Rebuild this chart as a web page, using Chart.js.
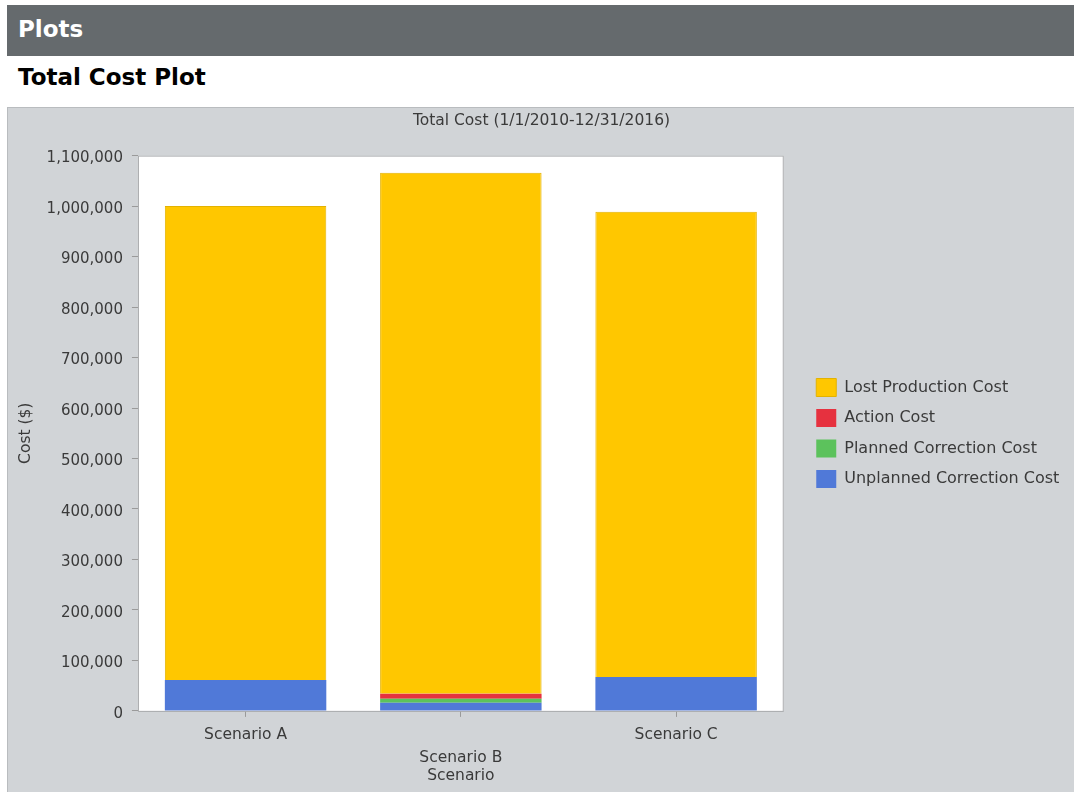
<!DOCTYPE html>
<html>
<head>
<meta charset="utf-8">
<script src="https://cdn.jsdelivr.net/npm/chart.js@4.4.1/dist/chart.umd.min.js"></script>
<style>
  body { margin: 0; background: #fff; width: 1074px; height: 792px; overflow: hidden; position: relative; font-family: "DejaVu Sans", sans-serif; }
  #header { position: absolute; left: 7px; top: 5px; width: 1067px; height: 51px; background: #656a6d; color: #fff; font-weight: bold; font-size: 23px; line-height: 48px; box-sizing: border-box; padding-left: 11px; }
  #subtitle { position: absolute; left: 18px; top: 64px; font-weight: bold; font-size: 23px; color: #000; }
  #panel { position: absolute; left: 7px; top: 107px; width: 1067px; height: 685px; background: #d1d4d7; border-top: 1px solid #b9bcbf; border-left: 1px solid #b9bcbf; box-sizing: border-box; }
  #wrap { position: absolute; left: 0; top: 0; width: 1066px; height: 684px; }
</style>
</head>
<body>
<div id="header">Plots</div>
<div id="subtitle">Total Cost Plot</div>
<div id="panel"><div id="wrap"><canvas id="chart_id"></canvas></div></div>
<script>
// data
const scenarios = ["Scenario A", "Scenario B", "Scenario C"];
const unplannedCost = [61000, 16000, 67000];
const plannedCost = [0, 8000, 0];
const actionCost = [0, 10000, 0];
const lostProductionCost = [939000, 1032000, 922000];

const textColor = '#3a3a3a';
const fontFamily = '"DejaVu Sans", sans-serif';
const legendGap = 20;

// white plot area with a thin grey frame
const plotFrame = {
    id: 'plotFrame',
    beforeDraw(chart) {
        const a = chart.chartArea;
        const ctx = chart.ctx;
        ctx.save();
        ctx.fillStyle = '#ffffff';
        ctx.fillRect(a.left, a.top, a.right - a.left, a.bottom - a.top);
        ctx.restore();
    },
    afterDatasetsDraw(chart) {
        const a = chart.chartArea;
        const ctx = chart.ctx;
        ctx.save();
        ctx.strokeStyle = '#a9abad';
        ctx.lineWidth = 1;
        ctx.strokeRect(a.left + 0.5, a.top + 0.5, a.right - a.left - 1, a.bottom - a.top);
        ctx.restore();
    }
};

// leave some extra room between the plot and the legend
const legendSpacer = {
    id: 'legendSpacer',
    beforeLayout(chart) {
        const lg = chart.legend;
        if (!lg || lg._spaced) return;
        const fit = lg.fit;
        lg.fit = function () {
            fit.call(this);
            this.width += legendGap;
        };
        const draw = lg.draw;
        lg.draw = function () {
            this.left += legendGap;
            draw.apply(this, arguments);
            this.left -= legendGap;
        };
        lg._spaced = true;
    }
};

new Chart(document.getElementById('chart_id'), {
    type: 'bar',
    plugins: [plotFrame, legendSpacer],
    data: {
        labels: scenarios,
        datasets: [
            { label: 'Unplanned Correction Cost', data: unplannedCost, backgroundColor: '#5079d8', borderWidth: 0 },
            { label: 'Planned Correction Cost', data: plannedCost, backgroundColor: '#5cc25c', borderWidth: 0 },
            { label: 'Action Cost', data: actionCost, backgroundColor: '#e6313f', borderWidth: 0 },
            { label: 'Lost Production Cost', data: lostProductionCost, backgroundColor: '#ffc700', borderColor: '#e3b200', borderWidth: 1 }
        ]
    },
    options: {
        responsive: true,
        maintainAspectRatio: false,
        animation: false,
        layout: { padding: { left: 9, right: 8, top: 4, bottom: 7 } },
        datasets: { bar: { categoryPercentage: 1.0, barPercentage: 0.75 } },
        plugins: {
            title: {
                display: true,
                text: 'Total Cost (1/1/2010-12/31/2016)',
                color: textColor,
                font: { family: fontFamily, size: 15.5, weight: 'normal' },
                padding: { top: 0, bottom: 25 }
            },
            legend: {
                position: 'right',
                fullSize: false,
                reverse: true,
                labels: {
                    color: textColor,
                    font: { family: fontFamily, size: 16 },
                    boxWidth: 20,
                    boxHeight: 18,
                    padding: 12.5
                }
            },
            tooltip: { enabled: false }
        },
        scales: {
            x: {
                stacked: true,
                grid: { display: true, drawOnChartArea: false, offset: false, tickLength: 6, color: '#9a9a9a' },
                border: { display: false },
                ticks: {
                    color: textColor,
                    font: { family: fontFamily, size: 15.5, lineHeight: 1.5 },
                    padding: 6,
                    maxRotation: 0,
                    autoSkip: false,
                    callback: function (value, index) {
                        const label = scenarios[index];
                        return index % 2 === 1 ? ['', label] : label;
                    }
                },
                title: {
                    display: true,
                    text: 'Scenario',
                    color: textColor,
                    font: { family: fontFamily, size: 15.5 },
                    padding: { top: -9, bottom: 0 }
                }
            },
            y: {
                stacked: true,
                min: 0,
                max: 1100000,
                grid: { display: true, drawOnChartArea: false, tickLength: 6, color: '#9a9a9a' },
                border: { display: false },
                ticks: {
                    stepSize: 100000,
                    color: textColor,
                    font: { family: fontFamily, size: 15 },
                    padding: 9,
                    labelOffset: 3,
                    callback: function (value) { return value.toLocaleString('en-US'); }
                },
                title: {
                    display: true,
                    text: 'Cost ($)',
                    color: textColor,
                    font: { family: fontFamily, size: 15.5 },
                    padding: { top: 0, bottom: 2 }
                }
            }
        }
    }
});
</script>
</body>
</html>
